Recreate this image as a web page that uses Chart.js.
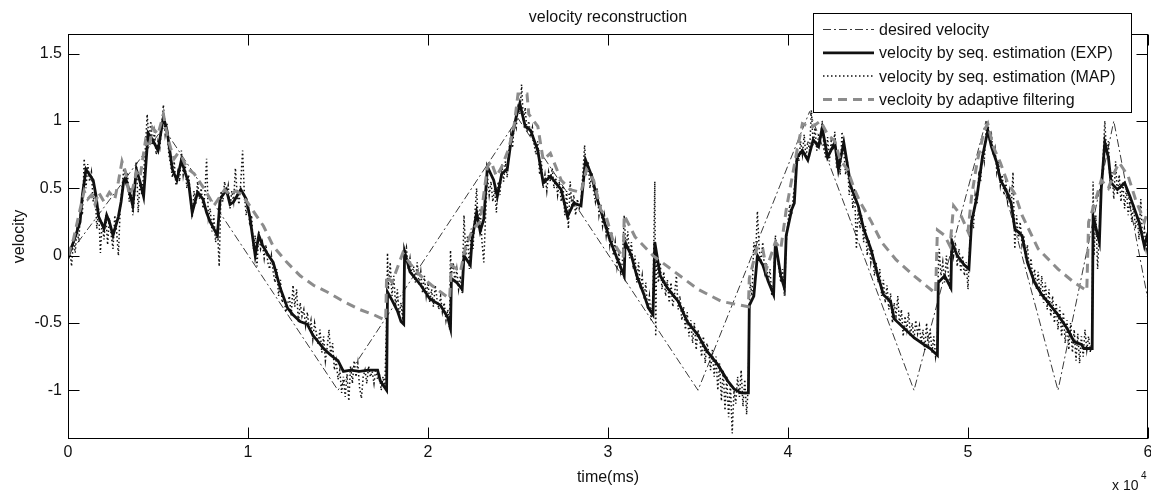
<!DOCTYPE html>
<html>
<head>
<meta charset="utf-8">
<title>velocity reconstruction</title>
<script src="https://cdn.jsdelivr.net/npm/chart.js@4.4.1/dist/chart.umd.min.js"></script>
<style>
  html, body { margin: 0; padding: 0; background: #fff; }
  canvas { display: block; }
</style>
</head>
<body>
<canvas id="velocityChart" width="1151" height="494"></canvas>
<script>
// time is in units of 1e4 ms (the "x 10^4" note under the axis)
const xTicks = [0, 1, 2, 3, 4, 5, 6];
const yTicks = [-1, -0.5, 0, 0.5, 1, 1.5];

// reference trajectory: corners of the dash-dot line
const desiredPoints = [
  [0, 0], [0.53, 0.95], [1.5, -1.0], [2.5, 1.02], [3.5, -1.0], [4.12, 1.07],
  [4.7, -1.0], [5.1, 1.0], [5.5, -1.0], [5.81, 1.0], [6.0, -0.33]
];

// sequential estimation, expectation
const expPoints = [
  [0, -0.02], [0.01, 0.03], [0.03, 0.1], [0.05, 0.18], [0.067, 0.25], [0.08, 0.45], [0.1, 0.64],
  [0.12, 0.6], [0.14, 0.56], [0.155, 0.45], [0.17, 0.29], [0.2, 0.2], [0.215, 0.3], [0.23, 0.25],
  [0.25, 0.15], [0.265, 0.22], [0.28, 0.29], [0.295, 0.4], [0.31, 0.56], [0.32, 0.58], [0.34, 0.48],
  [0.36, 0.37], [0.38, 0.64], [0.4, 0.55], [0.42, 0.44], [0.445, 0.91], [0.47, 0.86], [0.5, 0.78],
  [0.53, 1.03], [0.55, 0.93], [0.58, 0.64], [0.605, 0.56], [0.63, 0.71], [0.65, 0.62], [0.67, 0.54],
  [0.69, 0.32], [0.72, 0.47], [0.75, 0.42], [0.77, 0.32], [0.79, 0.25], [0.83, 0.15], [0.845, 0.42],
  [0.88, 0.49], [0.9, 0.38], [0.92, 0.4], [0.96, 0.49], [0.99, 0.42], [1.01, 0.29], [1.04, 0.0],
  [1.06, 0.15], [1.08, 0.08], [1.105, 0.02], [1.14, -0.05], [1.18, -0.245], [1.22, -0.39],
  [1.25, -0.44], [1.29, -0.49], [1.33, -0.51], [1.36, -0.59], [1.42, -0.69], [1.46, -0.74],
  [1.5, -0.78], [1.53, -0.86], [1.57, -0.85], [1.62, -0.86], [1.67, -0.85], [1.72, -0.85],
  [1.735, -0.93], [1.77, -1.0], [1.775, -0.27], [1.8, -0.33], [1.83, -0.41], [1.85, -0.49],
  [1.865, -0.51], [1.87, 0.03], [1.9, -0.12], [1.96, -0.22], [2.01, -0.32], [2.07, -0.37],
  [2.11, -0.46], [2.125, -0.54], [2.13, -0.17], [2.16, -0.2], [2.19, -0.25], [2.2, 0.0],
  [2.235, -0.07], [2.245, 0.12], [2.27, 0.32], [2.29, 0.18], [2.31, 0.27], [2.33, 0.66],
  [2.365, 0.56], [2.385, 0.44], [2.41, 0.61], [2.44, 0.64], [2.46, 0.84], [2.49, 1.03],
  [2.51, 1.13], [2.54, 0.96], [2.57, 0.93], [2.61, 0.78], [2.64, 0.54], [2.68, 0.59], [2.74, 0.49],
  [2.775, 0.29], [2.81, 0.39], [2.85, 0.37], [2.875, 0.71], [2.91, 0.59], [2.94, 0.42], [2.98, 0.25],
  [3.01, 0.12], [3.05, -0.02], [3.09, -0.15], [3.095, 0.1], [3.13, 0.0], [3.16, -0.15], [3.2, -0.29],
  [3.225, -0.39], [3.25, -0.44], [3.26, 0.1], [3.29, -0.15], [3.33, -0.24], [3.39, -0.34],
  [3.44, -0.49], [3.5, -0.59], [3.55, -0.71], [3.61, -0.81], [3.665, -0.93], [3.7, -0.99],
  [3.74, -1.02], [3.78, -1.02], [3.785, -0.37], [3.81, -0.3], [3.83, 0.0], [3.86, -0.07],
  [3.89, -0.19], [3.92, -0.29], [3.93, 0.1], [3.96, -0.15], [3.98, -0.24], [3.99, 0.15], [4.02, 0.34],
  [4.035, 0.39], [4.05, 0.73], [4.08, 0.78], [4.11, 0.71], [4.14, 0.86], [4.17, 0.81], [4.19, 0.95],
  [4.22, 0.73], [4.26, 0.84], [4.28, 0.64], [4.31, 0.84], [4.35, 0.51], [4.39, 0.37], [4.42, 0.2],
  [4.46, 0.05], [4.5, -0.15], [4.53, -0.29], [4.57, -0.34], [4.59, -0.47], [4.645, -0.54],
  [4.7, -0.61], [4.755, -0.66], [4.79, -0.69], [4.83, -0.74], [4.835, -0.2], [4.87, -0.15],
  [4.905, -0.24], [4.91, 0.1], [4.94, 0.0], [4.98, -0.07], [5.005, -0.1], [5.02, 0.25], [5.05, 0.44],
  [5.08, 0.73], [5.11, 0.93], [5.13, 0.81], [5.16, 0.69], [5.18, 0.56], [5.21, 0.49], [5.24, 0.39],
  [5.26, 0.2], [5.3, 0.15], [5.33, -0.05], [5.37, -0.2], [5.41, -0.29], [5.44, -0.34], [5.5, -0.44],
  [5.55, -0.54], [5.59, -0.64], [5.63, -0.66], [5.645, -0.69], [5.69, -0.69], [5.695, 0.29],
  [5.73, 0.1], [5.74, 0.49], [5.76, 0.84], [5.78, 0.73], [5.795, 0.54], [5.83, 0.49], [5.87, 0.54],
  [5.9, 0.44], [5.95, 0.25], [5.98, 0.07], [6.0, 0.17]
];

// sequential estimation, maximum a posteriori (noisy)
const mapPoints = [
  [0, -0.05], [0.01, 0.05], [0.02, -0.08], [0.03, 0.12], [0.04, 0.02], [0.05, 0.2], [0.06, 0.1],
  [0.07, 0.35], [0.08, 0.3], [0.09, 0.72], [0.1, 0.5], [0.11, 0.68], [0.12, 0.55], [0.13, 0.62],
  [0.14, 0.4], [0.15, 0.5], [0.16, 0.2], [0.17, 0.35], [0.18, 0.02], [0.19, 0.25], [0.2, 0.12],
  [0.21, 0.3], [0.22, 0.08], [0.23, 0.28], [0.24, 0.15], [0.25, 0.05], [0.26, 0.3], [0.27, 0.18],
  [0.28, 0.0], [0.29, 0.35], [0.3, 0.5], [0.31, 0.65], [0.32, 0.55], [0.33, 0.62], [0.34, 0.4],
  [0.35, 0.5], [0.36, 0.3], [0.37, 0.45], [0.38, 0.7], [0.39, 0.32], [0.4, 0.55], [0.41, 0.45],
  [0.42, 0.6], [0.43, 0.8], [0.44, 1.05], [0.45, 0.85], [0.46, 1.0], [0.47, 0.82], [0.48, 0.92],
  [0.49, 0.75], [0.5, 0.85], [0.51, 0.8], [0.52, 0.95], [0.53, 1.12], [0.54, 0.9], [0.55, 0.98],
  [0.56, 0.75], [0.57, 0.68], [0.58, 0.58], [0.59, 0.7], [0.6, 0.52], [0.61, 0.62], [0.62, 0.55],
  [0.63, 0.78], [0.64, 0.6], [0.65, 0.7], [0.66, 0.5], [0.67, 0.6], [0.68, 0.45], [0.69, 0.28],
  [0.7, 0.48], [0.71, 0.38], [0.72, 0.55], [0.73, 0.42], [0.74, 0.5], [0.75, 0.35], [0.76, 0.45],
  [0.77, 0.72], [0.78, 0.28], [0.79, 0.35], [0.8, 0.18], [0.81, 0.3], [0.82, 0.1], [0.83, 0.2],
  [0.84, -0.08], [0.85, 0.48], [0.86, 0.4], [0.87, 0.55], [0.88, 0.45], [0.89, 0.52], [0.9, 0.35],
  [0.91, 0.48], [0.92, 0.4], [0.93, 0.65], [0.94, 0.45], [0.95, 0.38], [0.96, 0.55], [0.97, 0.78],
  [0.98, 0.45], [0.99, 0.3], [1.0, 0.4], [1.01, 0.22], [1.02, 0.3], [1.03, 0.05], [1.04, 0.15],
  [1.05, -0.08], [1.06, 0.18], [1.07, 0.05], [1.08, 0.1], [1.09, -0.02], [1.1, 0.08], [1.11, -0.05],
  [1.12, -0.1], [1.13, 0.0], [1.14, -0.12], [1.15, -0.2], [1.16, -0.1], [1.17, -0.3], [1.18, -0.18],
  [1.19, -0.35], [1.2, -0.3], [1.21, -0.42], [1.22, -0.36], [1.23, -0.3], [1.24, -0.45],
  [1.25, -0.22], [1.26, -0.38], [1.27, -0.25], [1.28, -0.5], [1.29, -0.35], [1.3, -0.45],
  [1.31, -0.4], [1.32, -0.52], [1.33, -0.42], [1.34, -0.55], [1.35, -0.48], [1.36, -0.62],
  [1.37, -0.5], [1.38, -0.58], [1.39, -0.66], [1.4, -0.55], [1.41, -0.72], [1.42, -0.6],
  [1.43, -0.78], [1.44, -0.68], [1.45, -0.55], [1.46, -0.75], [1.47, -0.65], [1.48, -0.85],
  [1.49, -0.78], [1.5, -0.92], [1.51, -0.85], [1.52, -1.02], [1.53, -0.9], [1.54, -1.05],
  [1.55, -0.88], [1.56, -1.08], [1.57, -0.82], [1.58, -0.95], [1.59, -0.78], [1.6, -0.9],
  [1.61, -0.8], [1.62, -0.98], [1.63, -1.06], [1.64, -0.9], [1.65, -0.85], [1.66, -0.95],
  [1.67, -0.82], [1.68, -0.9], [1.69, -0.86], [1.7, -0.95], [1.71, -0.84], [1.72, -0.92],
  [1.73, -0.88], [1.74, -1.0], [1.75, -0.9], [1.76, -0.98], [1.77, -0.5], [1.775, 0.02],
  [1.78, -0.25], [1.79, -0.05], [1.8, -0.3], [1.81, -0.15], [1.82, -0.38], [1.83, -0.25],
  [1.84, -0.45], [1.85, -0.35], [1.86, -0.48], [1.87, 0.0], [1.88, 0.06], [1.89, -0.1], [1.9, -0.02],
  [1.91, -0.15], [1.92, -0.08], [1.93, -0.2], [1.94, -0.05], [1.95, -0.22], [1.96, -0.12],
  [1.97, -0.28], [1.98, -0.15], [1.99, -0.3], [2.0, -0.2], [2.01, -0.35], [2.02, -0.25],
  [2.03, -0.38], [2.04, -0.22], [2.05, -0.32], [2.06, -0.4], [2.07, -0.3], [2.08, -0.42],
  [2.09, -0.35], [2.1, -0.48], [2.11, -0.4], [2.12, -0.55], [2.125, 0.04], [2.13, -0.15],
  [2.14, -0.05], [2.15, -0.2], [2.16, -0.1], [2.17, -0.25], [2.18, -0.15], [2.19, -0.28], [2.2, 0.3],
  [2.21, 0.0], [2.22, 0.15], [2.23, -0.1], [2.24, 0.2], [2.25, 0.05], [2.26, 0.3], [2.27, 0.5],
  [2.28, 0.2], [2.29, 0.35], [2.3, 0.1], [2.31, -0.05], [2.32, 0.3], [2.33, 0.6], [2.34, 0.45],
  [2.35, 0.55], [2.36, 0.4], [2.37, 0.5], [2.38, 0.32], [2.39, 0.55], [2.4, 0.45], [2.41, 0.68],
  [2.42, 0.55], [2.43, 0.7], [2.44, 0.58], [2.45, 0.78], [2.46, 0.9], [2.47, 0.8], [2.48, 1.0],
  [2.49, 0.95], [2.5, 1.1], [2.51, 1.05], [2.52, 1.27], [2.53, 1.0], [2.54, 1.1], [2.55, 0.92],
  [2.56, 1.0], [2.57, 0.88], [2.58, 0.95], [2.59, 0.82], [2.6, 0.75], [2.61, 0.85], [2.62, 0.6],
  [2.63, 0.7], [2.64, 0.5], [2.65, 0.6], [2.66, 0.48], [2.67, 0.62], [2.68, 0.55], [2.69, 0.65],
  [2.7, 0.5], [2.71, 0.58], [2.72, 0.45], [2.73, 0.55], [2.74, 0.4], [2.75, 0.52], [2.76, 0.3],
  [2.77, 0.48], [2.78, 0.2], [2.79, 0.55], [2.8, 0.35], [2.81, 0.45], [2.82, 0.3], [2.83, 0.42],
  [2.84, 0.35], [2.85, 0.4], [2.86, 0.6], [2.87, 0.82], [2.88, 0.6], [2.89, 0.7], [2.9, 0.5],
  [2.91, 0.62], [2.92, 0.48], [2.93, 0.4], [2.94, 0.5], [2.95, 0.3], [2.96, 0.38], [2.97, 0.22],
  [2.98, 0.3], [2.99, 0.15], [3.0, 0.25], [3.01, 0.08], [3.02, 0.18], [3.03, 0.0], [3.04, 0.1],
  [3.05, -0.08], [3.06, 0.02], [3.07, -0.12], [3.08, -0.05], [3.09, 0.3], [3.1, 0.05], [3.11, 0.18],
  [3.12, -0.02], [3.13, 0.1], [3.14, -0.1], [3.15, 0.0], [3.16, -0.2], [3.17, -0.05], [3.18, -0.25],
  [3.19, -0.15], [3.2, -0.32], [3.21, -0.2], [3.22, -0.4], [3.23, -0.3], [3.24, -0.48], [3.25, -0.3],
  [3.26, 0.55], [3.265, -0.6], [3.27, 0.0], [3.28, -0.2], [3.29, -0.05], [3.3, -0.25], [3.31, -0.12],
  [3.32, -0.3], [3.33, -0.18], [3.34, -0.35], [3.35, -0.2], [3.36, -0.38], [3.37, -0.28],
  [3.38, -0.15], [3.39, -0.4], [3.4, -0.3], [3.41, -0.48], [3.42, -0.38], [3.43, -0.55],
  [3.44, -0.42], [3.45, -0.6], [3.46, -0.48], [3.47, -0.65], [3.48, -0.5], [3.49, -0.7], [3.5, -0.55],
  [3.51, -0.62], [3.52, -0.75], [3.53, -0.6], [3.54, -0.8], [3.55, -0.65], [3.56, -0.72],
  [3.57, -0.85], [3.58, -0.7], [3.59, -0.9], [3.6, -0.75], [3.61, -1.0], [3.62, -0.8], [3.63, -1.08],
  [3.64, -0.85], [3.65, -1.15], [3.66, -0.9], [3.67, -1.2], [3.68, -0.95], [3.69, -1.32], [3.7, -1.0],
  [3.71, -1.1], [3.72, -0.9], [3.73, -1.05], [3.74, -0.85], [3.75, -1.12], [3.76, -0.92],
  [3.77, -1.18], [3.78, -0.95], [3.785, -0.4], [3.79, -0.2], [3.8, -0.3], [3.81, 0.1], [3.82, 0.0],
  [3.83, 0.33], [3.84, 0.05], [3.85, -0.05], [3.86, 0.1], [3.87, -0.12], [3.88, -0.05], [3.89, -0.2],
  [3.9, -0.1], [3.91, -0.3], [3.92, -0.2], [3.93, 0.15], [3.94, 0.0], [3.95, -0.1], [3.96, -0.2],
  [3.97, -0.1], [3.98, -0.3], [3.99, 0.1], [4.0, 0.25], [4.01, 0.38], [4.02, 0.3], [4.03, 0.45],
  [4.04, 0.55], [4.05, 0.8], [4.06, 0.7], [4.07, 0.85], [4.08, 0.75], [4.09, 0.9], [4.1, 0.72],
  [4.11, 0.85], [4.12, 0.78], [4.13, 1.08], [4.14, 0.82], [4.15, 0.95], [4.16, 0.78], [4.17, 0.9],
  [4.18, 0.85], [4.19, 1.0], [4.2, 0.8], [4.21, 0.72], [4.22, 0.88], [4.23, 0.7], [4.24, 0.85],
  [4.25, 0.78], [4.26, 0.92], [4.27, 0.65], [4.28, 0.75], [4.29, 0.6], [4.3, 0.92], [4.31, 0.78],
  [4.32, 0.6], [4.33, 0.7], [4.34, 0.45], [4.35, 0.58], [4.36, 0.35], [4.37, 0.5], [4.38, 0.05],
  [4.39, 0.35], [4.4, 0.2], [4.41, 0.3], [4.42, 0.1], [4.43, 0.22], [4.44, 0.0], [4.45, 0.12],
  [4.46, -0.05], [4.47, 0.05], [4.48, -0.15], [4.49, -0.05], [4.5, -0.2], [4.51, -0.1], [4.52, -0.3],
  [4.53, -0.18], [4.54, -0.35], [4.55, -0.22], [4.56, -0.4], [4.57, -0.28], [4.58, -0.5],
  [4.59, -0.35], [4.6, -0.45], [4.61, -0.3], [4.62, -0.52], [4.63, -0.4], [4.64, -0.6], [4.65, -0.45],
  [4.66, -0.55], [4.67, -0.42], [4.68, -0.6], [4.69, -0.5], [4.7, -0.62], [4.71, -0.48], [4.72, -0.58],
  [4.73, -0.52], [4.74, -0.65], [4.75, -0.55], [4.76, -0.7], [4.77, -0.5], [4.78, -0.68],
  [4.79, -0.55], [4.8, -0.72], [4.81, -0.6], [4.82, -0.75], [4.83, -0.65], [4.835, -0.1], [4.84, 0.05],
  [4.85, -0.15], [4.86, -0.05], [4.87, -0.2], [4.88, 0.0], [4.89, -0.12], [4.9, -0.25], [4.91, 0.15],
  [4.92, 0.0], [4.93, 0.1], [4.94, -0.08], [4.95, 0.05], [4.96, -0.12], [4.97, 0.0], [4.98, -0.15],
  [4.99, -0.05], [5.0, -0.25], [5.01, 0.1], [5.02, 0.3], [5.03, 0.2], [5.04, 0.45], [5.05, 0.38],
  [5.06, 0.6], [5.07, 0.55], [5.08, 0.78], [5.09, 0.7], [5.1, 0.92], [5.11, 1.0], [5.12, 0.85],
  [5.13, 0.9], [5.14, 0.75], [5.15, 0.8], [5.16, 0.62], [5.17, 0.7], [5.18, 0.52], [5.19, 0.6],
  [5.2, 0.45], [5.21, 0.55], [5.22, 0.4], [5.23, 0.48], [5.24, 0.35], [5.25, 0.62], [5.26, 0.05],
  [5.27, 0.3], [5.28, 0.12], [5.29, 0.25], [5.3, 0.08], [5.31, 0.15], [5.32, -0.02], [5.33, 0.08],
  [5.34, -0.1], [5.35, -0.02], [5.36, -0.18], [5.37, -0.1], [5.38, -0.25], [5.39, -0.12], [5.4, -0.3],
  [5.41, -0.15], [5.42, -0.35], [5.43, -0.2], [5.44, -0.4], [5.45, -0.25], [5.46, -0.45],
  [5.47, -0.3], [5.48, -0.5], [5.49, -0.35], [5.5, -0.55], [5.51, -0.38], [5.52, -0.6], [5.53, -0.42],
  [5.54, -0.65], [5.55, -0.48], [5.56, -0.7], [5.57, -0.5], [5.58, -0.72], [5.59, -0.55], [5.6, -0.78],
  [5.61, -0.58], [5.62, -0.8], [5.63, -0.6], [5.64, -0.75], [5.65, -0.55], [5.66, -0.7], [5.67, -0.6],
  [5.68, -0.72], [5.69, -0.62], [5.695, 0.55], [5.7, 0.0], [5.71, 0.3], [5.72, -0.1], [5.73, 0.2],
  [5.74, 0.5], [5.75, 0.7], [5.76, 1.0], [5.77, 0.75], [5.78, 0.85], [5.79, 0.5], [5.8, 0.62],
  [5.81, 0.42], [5.82, 0.7], [5.83, 0.45], [5.84, 0.6], [5.85, 0.4], [5.86, 0.55], [5.87, 0.35],
  [5.88, 0.5], [5.89, 0.3], [5.9, 0.42], [5.91, 0.25], [5.92, 0.38], [5.93, 0.2], [5.94, 0.3],
  [5.95, 0.12], [5.96, 0.42], [5.97, 0.1], [5.98, 0.2], [5.99, 0.05], [6.0, 0.15]
];

// adaptive filter output
const adaptivePoints = [
  [0, 0.0], [0.03, 0.12], [0.06, 0.3], [0.09, 0.48], [0.11, 0.42], [0.13, 0.45], [0.15, 0.38],
  [0.17, 0.47], [0.2, 0.4], [0.23, 0.47], [0.26, 0.42], [0.28, 0.55], [0.3, 0.7], [0.32, 0.62],
  [0.34, 0.45], [0.36, 0.5], [0.38, 0.62], [0.4, 0.58], [0.43, 0.85], [0.45, 0.8], [0.47, 0.95],
  [0.5, 0.9], [0.53, 1.05], [0.55, 0.9], [0.57, 0.8], [0.59, 0.72], [0.61, 0.76], [0.63, 0.74],
  [0.66, 0.65], [0.7, 0.61], [0.73, 0.55], [0.76, 0.49], [0.79, 0.42], [0.81, 0.37], [0.845, 0.44],
  [0.87, 0.49], [0.9, 0.45], [0.93, 0.48], [0.96, 0.46], [1.0, 0.39], [1.05, 0.29], [1.086, 0.22],
  [1.14, 0.07], [1.216, -0.05], [1.29, -0.15], [1.364, -0.22], [1.44, -0.27], [1.53, -0.34],
  [1.62, -0.4], [1.7, -0.44], [1.765, -0.48], [1.77, -0.15], [1.8, -0.2], [1.86, 0.02], [1.9, -0.06],
  [1.96, -0.15], [2.02, -0.22], [2.07, -0.27], [2.12, -0.32], [2.13, -0.07], [2.18, -0.12],
  [2.21, 0.07], [2.25, 0.2], [2.29, 0.25], [2.33, 0.66], [2.35, 0.7], [2.38, 0.59], [2.41, 0.66],
  [2.45, 0.8], [2.48, 0.98], [2.5, 1.2], [2.55, 1.2], [2.56, 1.05], [2.61, 0.96], [2.64, 0.71],
  [2.68, 0.76], [2.74, 0.56], [2.79, 0.49], [2.85, 0.47], [2.88, 0.64], [2.92, 0.56], [2.96, 0.34],
  [2.99, 0.29], [3.03, 0.1], [3.085, -0.02], [3.09, 0.3], [3.15, 0.14], [3.25, 0.0], [3.35, -0.1],
  [3.5, -0.25], [3.63, -0.34], [3.78, -0.38], [3.785, -0.17], [3.83, 0.07], [3.86, 0.05],
  [3.88, -0.1], [3.93, 0.1], [3.96, 0.05], [3.99, 0.34], [4.02, 0.56], [4.05, 0.78], [4.08, 0.98],
  [4.13, 0.95], [4.18, 1.0], [4.22, 0.9], [4.26, 0.85], [4.29, 0.71], [4.33, 0.64], [4.37, 0.49],
  [4.4, 0.4], [4.46, 0.26], [4.52, 0.1], [4.6, -0.03], [4.7, -0.15], [4.82, -0.28], [4.83, 0.19],
  [4.87, 0.15], [4.9, 0.07], [4.92, 0.37], [4.96, 0.3], [5.0, 0.18], [5.02, 0.44], [5.05, 0.69],
  [5.09, 0.93], [5.11, 0.98], [5.14, 0.81], [5.18, 0.69], [5.22, 0.54], [5.26, 0.46], [5.3, 0.3],
  [5.39, 0.05], [5.5, -0.1], [5.59, -0.2], [5.66, -0.26], [5.67, 0.25], [5.7, 0.37], [5.74, 0.56],
  [5.78, 0.5], [5.81, 0.61], [5.84, 0.69], [5.89, 0.59], [5.93, 0.42], [5.98, 0.25], [6.0, 0.34]
];

const FONT = '"Liberation Sans", Arial, Helvetica, sans-serif';
const TICK_LEN = 11;

const toXY = pts => pts.map(([x, y]) => ({ x: x, y: y }));

// MATLAB-style box: frame on all four sides with inward ticks
const axesBox = {
  id: 'axesBox',
  afterDatasetsDraw(chart) {
    const { ctx, chartArea: a, scales } = chart;
    const L = Math.round(a.left) + 0.5;
    const R = Math.round(a.right) - 0.5;
    const T = Math.round(a.top) + 0.5;
    const B = Math.round(a.bottom) - 0.5;
    ctx.save();
    ctx.strokeStyle = '#000';
    ctx.lineWidth = 1;
    ctx.strokeRect(L, T, R - L, B - T);
    ctx.beginPath();
    xTicks.forEach(v => {
      const px = Math.round(scales.x.getPixelForValue(v)) + 0.5;
      ctx.moveTo(px, B); ctx.lineTo(px, B - TICK_LEN);
      ctx.moveTo(px, T); ctx.lineTo(px, T + TICK_LEN);
    });
    yTicks.forEach(v => {
      const py = Math.round(scales.y.getPixelForValue(v)) + 0.5;
      ctx.moveTo(L, py); ctx.lineTo(L + TICK_LEN, py);
      ctx.moveTo(R, py); ctx.lineTo(R - TICK_LEN, py);
    });
    ctx.stroke();
    ctx.restore();
  }
};

// title, axis labels and the exponent note
const labels = {
  id: 'labels',
  afterDraw(chart) {
    const { ctx, chartArea: a } = chart;
    const cx = (a.left + a.right) / 2;
    ctx.save();
    ctx.fillStyle = '#111';
    ctx.font = '16px ' + FONT;
    ctx.textAlign = 'center';
    ctx.textBaseline = 'alphabetic';
    ctx.fillText('velocity reconstruction', cx, 22);
    ctx.fillText('time(ms)', cx, 482);

    ctx.save();
    ctx.translate(24, (a.top + a.bottom) / 2);
    ctx.rotate(-Math.PI / 2);
    ctx.fillText('velocity', 0, 0);
    ctx.restore();

    ctx.textAlign = 'left';
    ctx.font = '14px ' + FONT;
    ctx.fillText('x 10', 1112, 490);
    ctx.font = '10px ' + FONT;
    ctx.fillText('4', 1141, 479);
    ctx.restore();
  }
};

// boxed legend in the top right corner, overlapping the frame
const boxLegend = {
  id: 'boxLegend',
  afterDraw(chart) {
    const { ctx } = chart;
    const box = { x: 813.5, y: 13.5, w: 318, h: 99 };
    ctx.save();
    ctx.fillStyle = '#fff';
    ctx.fillRect(box.x, box.y, box.w, box.h);
    ctx.strokeStyle = '#000';
    ctx.lineWidth = 1;
    ctx.strokeRect(box.x, box.y, box.w, box.h);
    ctx.font = '16px ' + FONT;
    ctx.textBaseline = 'middle';
    ctx.textAlign = 'left';
    chart.data.datasets.forEach((ds, i) => {
      const yy = 29.5 + i * 23.3;
      ctx.save();
      ctx.strokeStyle = ds.borderColor;
      ctx.lineWidth = Math.min(ds.borderWidth, 3);
      ctx.setLineDash(ds.borderDash || []);
      ctx.beginPath();
      ctx.moveTo(823, yy);
      ctx.lineTo(874, yy);
      ctx.stroke();
      ctx.restore();
      ctx.fillStyle = '#111';
      ctx.fillText(ds.label, 879, yy + 1);
    });
    ctx.restore();
  }
};

const tickFont = { family: FONT, size: 16 };

new Chart(document.getElementById('velocityChart'), {
  type: 'line',
  data: {
    datasets: [
      {
        label: 'desired velocity',
        data: toXY(desiredPoints),
        borderColor: '#3a3a3a',
        borderWidth: 1,
        borderDash: [8, 3, 2, 3],
        order: 3
      },
      {
        label: 'velocity by seq. estimation (EXP)',
        data: toXY(expPoints),
        borderColor: '#111',
        borderWidth: 2.8,
        order: 2
      },
      {
        label: 'velocity by seq. estimation (MAP)',
        data: toXY(mapPoints),
        borderColor: '#111',
        borderWidth: 1.5,
        borderDash: [1.5, 2.5],
        order: 1
      },
      {
        label: 'vecloity by adaptive filtering',
        data: toXY(adaptivePoints),
        borderColor: '#8c8c8c',
        borderWidth: 3,
        borderDash: [9, 6],
        order: 0
      }
    ]
  },
  options: {
    responsive: false,
    animation: false,
    events: [],
    layout: { padding: { top: 34, right: 3, left: 0, bottom: 0 } },
    elements: {
      point: { radius: 0 },
      line: { tension: 0, fill: false }
    },
    plugins: {
      legend: { display: false },
      title: { display: false },
      tooltip: { enabled: false }
    },
    scales: {
      x: {
        type: 'linear',
        min: 0,
        max: 6,
        afterBuildTicks: s => { s.ticks = xTicks.map(v => ({ value: v })); },
        afterFit: s => { s.height = 55; s.paddingLeft = 0; s.paddingRight = 0; },
        grid: { display: false, drawTicks: false },
        border: { display: false },
        ticks: {
          padding: 4,
          maxRotation: 0,
          autoSkip: false,
          color: '#111',
          font: tickFont,
          callback: v => String(v)
        }
      },
      y: {
        type: 'linear',
        min: -1.362,
        max: 1.646,
        afterBuildTicks: s => { s.ticks = yTicks.map(v => ({ value: v })); },
        afterFit: s => { s.width = 68; },
        grid: { display: false, drawTicks: false },
        border: { display: false },
        ticks: {
          padding: 6,
          autoSkip: false,
          color: '#111',
          font: tickFont,
          callback: v => String(v)
        }
      }
    }
  },
  plugins: [axesBox, labels, boxLegend]
});
</script>
</body>
</html>
